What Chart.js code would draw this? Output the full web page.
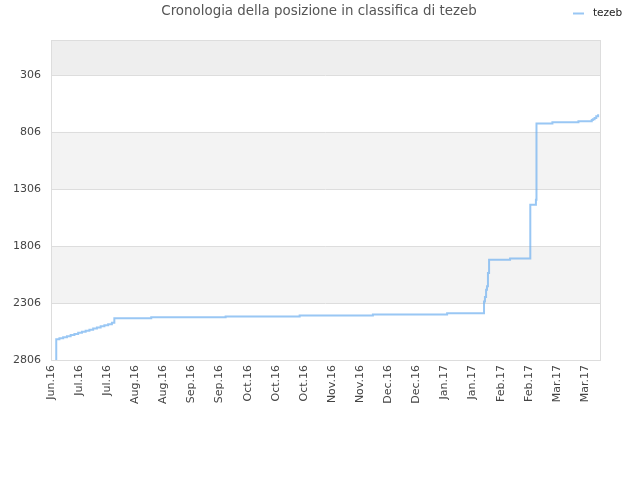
<!doctype html>
<html lang="it">
<head>
<meta charset="utf-8">
<title>Cronologia della posizione in classifica di tezeb</title>
<script src="https://cdn.jsdelivr.net/npm/chart.js@4.4.1/dist/chart.umd.min.js"></script>
<style>
  html,body{margin:0;padding:0;background:#fff}
  canvas{display:block}
</style>
</head>
<body>
<canvas id="rankChart" width="640" height="480"></canvas>
<script>
// Ranking history.
// x = days since the first tick label (Jun.16), y = position in the ranking (lower is better).
const days  = [2.7, 2.8, 4.5, 6.5, 8.5, 10.5, 12.5, 14.5, 16.5, 18.5, 20.5, 22.5, 24.5, 26.5, 28.5, 30.5, 32.5,
               33.8, 53.5, 93.2, 132.7, 171.8, 211.4,
               231.1, 231.6, 232.2, 232.7, 233.2, 233.8, 245.0,
               255.8, 258.8, 259.1, 267.6, 281.5, 288.6, 289.2, 290.1, 291.0, 292.0];
const ranks = [2806, 2625, 2616, 2606, 2597, 2587, 2578, 2568, 2559, 2549, 2540, 2530, 2521, 2511, 2502, 2492, 2480,
               2441, 2432, 2424, 2415, 2406, 2397,
               2292, 2253, 2189, 2160, 2043, 1926, 1917,
               1444, 1400, 733, 722, 713, 701, 695, 683, 669, 650];

const xLabels = ["Jun.16", "Jul.16", "Jul.16", "Aug.16", "Aug.16", "Sep.16", "Sep.16", "Oct.16", "Oct.16", "Oct.16",
                 "Nov.16", "Nov.16", "Dec.16", "Dec.16", "Jan.17", "Jan.17", "Feb.17", "Feb.17", "Mar.17", "Mar.17"];
const xLabelStep = 15;     // days between two labels
const yTicks = [306, 806, 1306, 1806, 2306, 2806];
const seriesName = "tezeb";
const chartTitle = "Cronologia della posizione in classifica di tezeb";

const FONT = "'DejaVu Sans', sans-serif";
const LINE = "rgba(110,175,240,0.7)";

// alternating background bands between the ticks, plus the frame
const bands = {
  id: "bands",
  beforeDatasetsDraw(chart) {
    const { ctx, chartArea: a, scales: { y } } = chart;
    const edges = [y.min].concat(yTicks);
    const fills = ["#eeeeee", null, "#f3f3f3", null, "#f3f3f3", null];
    ctx.save();
    for (let i = 0; i < edges.length - 1; i++) {
      if (!fills[i]) continue;
      const t = y.getPixelForValue(edges[i]), b = y.getPixelForValue(edges[i + 1]);
      ctx.fillStyle = fills[i];
      ctx.fillRect(a.left, t, a.right - a.left, b - t);
    }
    ctx.strokeStyle = "#dddddd";
    ctx.lineWidth = 1;
    for (const v of yTicks) {
      const py = Math.round(y.getPixelForValue(v)) + 0.5;
      ctx.beginPath(); ctx.moveTo(a.left, py); ctx.lineTo(a.right, py); ctx.stroke();
    }
    ctx.strokeRect(Math.round(a.left) + 0.5, Math.round(a.top) + 0.5, Math.round(a.right - a.left), Math.round(a.bottom - a.top));
    ctx.restore();
  }
};

// title centred on the whole canvas, small legend at the top right
const header = {
  id: "header",
  afterDraw(chart) {
    const { ctx, width } = chart;
    const ds = chart.data.datasets[0];
    ctx.save();
    ctx.fillStyle = "#555";
    ctx.font = "13.4px " + FONT;
    ctx.textAlign = "center";
    ctx.textBaseline = "middle";
    ctx.fillText(chartTitle, width / 2 - 1, 12);
    ctx.strokeStyle = ds.borderColor;
    ctx.lineWidth = 2;
    ctx.beginPath(); ctx.moveTo(573, 13.5); ctx.lineTo(584, 13.5); ctx.stroke();
    ctx.fillStyle = "#222";
    ctx.font = "10.5px " + FONT;
    ctx.textAlign = "left";
    ctx.fillText(ds.label, 593, 13);
    ctx.restore();
  }
};

new Chart(document.getElementById("rankChart"), {
  type: "line",
  data: {
    datasets: [{
      label: seriesName,
      data: days.map((d, i) => ({ x: d, y: ranks[i] })),
      borderColor: LINE,
      borderWidth: 2,
      pointRadius: 0,
      stepped: true,
      fill: false
    }]
  },
  options: {
    responsive: false,
    animation: false,
    layout: { padding: { left: 0, right: 40, top: 40, bottom: 0 } },
    plugins: {
      legend: { display: false },
      tooltip: { enabled: false },
      title: { display: false }
    },
    scales: {
      x: {
        type: "linear",
        min: 0,
        max: 293,
        afterBuildTicks: (s) => { s.ticks = xLabels.map((_, i) => ({ value: i * xLabelStep })); },
        afterFit: (s) => { s.height = 120; },
        grid: { display: false, drawTicks: false },
        border: { display: false },
        ticks: {
          autoSkip: false,
          minRotation: 90,
          maxRotation: 90,
          padding: 5,
          color: "#444",
          font: { family: FONT, size: 11 },
          callback: (v) => xLabels[Math.round(v / xLabelStep)] || ""
        }
      },
      y: {
        type: "linear",
        reverse: true,
        min: 0,
        max: 2806,
        afterBuildTicks: (s) => { s.ticks = yTicks.map((v) => ({ value: v })); },
        afterFit: (s) => { s.width = 51; },
        grid: { display: false, drawTicks: false },
        border: { display: false },
        ticks: {
          padding: 10,
          color: "#444",
          font: { family: FONT, size: 11 },
          callback: (v) => String(v)
        }
      }
    }
  },
  plugins: [bands, header]
});
</script>
</body>
</html>
